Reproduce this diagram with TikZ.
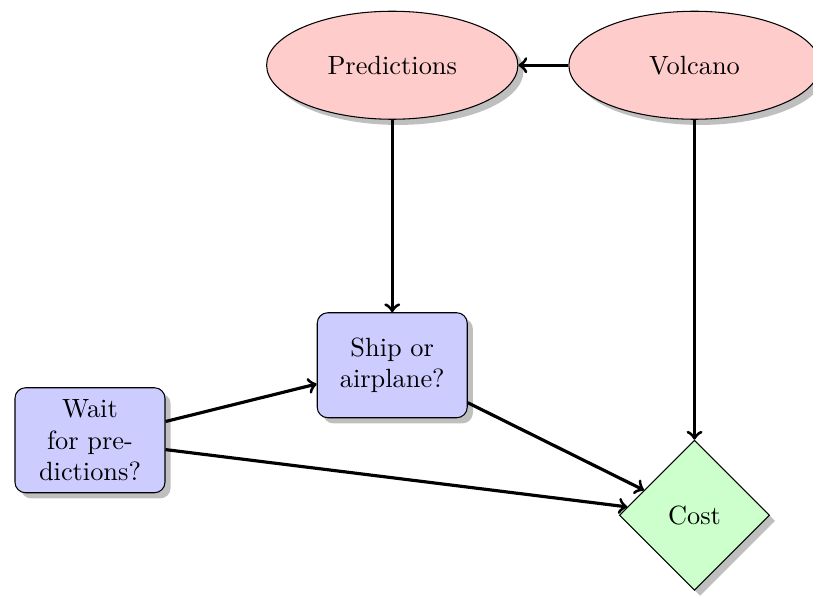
\documentclass[tikz,border=0pt]{standalone}
\usetikzlibrary{shapes.geometric,shadows,arrows}
\begin{document}
\begin{tikzpicture}[
  chance/.style={ellipse, draw, fill=red!20, drop shadow,
    minimum width=3.35cm, minimum height=1.44cm},
  decision/.style={rectangle, rounded corners, draw, fill=blue!20, drop shadow,
    align=center, minimum width=2cm, minimum height=1.4cm},
  utility/.style={diamond, draw, fill=green!20, drop shadow,
    minimum width=2cm, minimum height=2cm, inner sep=1pt},
  link/.style={->, very thick}
]
\useasboundingbox (-5.23,0.87) rectangle (5.61,-7.07);

\node[chance] (pred) at (0,0) {Predictions};
\node[chance] (volc) at (4.03,0) {Volcano};
\node[decision] (ship) at (0,-4) {Ship or\\airplane?};
\node[decision] (wait) at (-4.03,-5) {Wait\\for pre-\\dictions?};
\node[utility] (cost) at (4.03,-6) {Cost};

\draw[link] (volc) -- (pred);
\draw[link] (pred) -- (ship);
\draw[link] (volc) -- (cost);
\draw[link] (wait) -- (ship);
\draw[link] (wait) -- (cost);
\draw[link] (ship) -- (cost);
\end{tikzpicture}
\end{document}
